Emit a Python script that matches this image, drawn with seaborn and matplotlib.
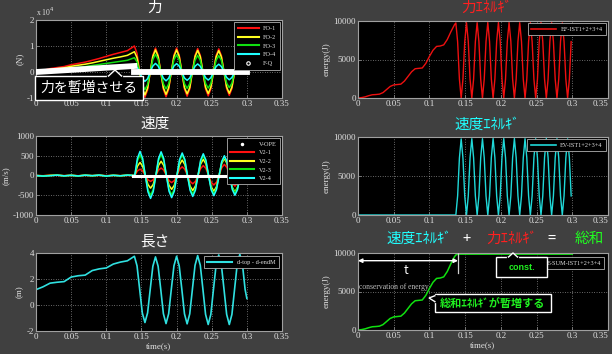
import numpy as np
import pandas as pd
import matplotlib
matplotlib.use('Agg')
import matplotlib.pyplot as plt
import seaborn as sns
from matplotlib.patches import Rectangle, Polygon
from matplotlib.lines import Line2D

# ---------------- data ----------------
# force (x10^4 N) : ramp part
t_ramp = [0.00, 0.01, 0.02, 0.03, 0.04, 0.05, 0.06, 0.07, 0.08, 0.09, 0.10, 0.11, 0.12, 0.13, 0.14]
fo1_ramp = [0.00, 0.06, 0.13, 0.17, 0.21, 0.28, 0.33, 0.38, 0.45, 0.52, 0.60, 0.68, 0.75, 0.82, 1.00]
fo2_ramp = [0.00, 0.04, 0.10, 0.13, 0.16, 0.22, 0.26, 0.30, 0.35, 0.41, 0.47, 0.53, 0.58, 0.64, 0.78]
fo3_ramp = [0.00, 0.03, 0.07, 0.09, 0.12, 0.15, 0.18, 0.21, 0.25, 0.29, 0.33, 0.37, 0.41, 0.45, 0.55]
fo4_ramp = [0.00, 0.01, 0.03, 0.04, 0.05, 0.07, 0.08, 0.10, 0.11, 0.13, 0.15, 0.17, 0.19, 0.20, 0.25]
# force : oscillation part, sampled every 0.00375 s after 0.14 s
t_fosc = np.round(0.14 + 0.00375 * np.arange(1, 43), 5)
fo1_osc = [0.71, 0.00, -0.69, -0.97, -0.69, 0.00, 0.65, 0.92,
           0.65, 0.00, -0.67, -0.95, -0.67, 0.00, 0.65, 0.92,
           0.65, 0.00, -0.66, -0.93, -0.66, 0.00, 0.64, 0.90,
           0.64, 0.00, -0.65, -0.92, -0.65, 0.00, 0.63, 0.89,
           0.63, 0.00, -0.64, -0.90, -0.64, 0.00, 0.62, 0.88,
           0.62, 0.00]
fo2_osc = [0.55, 0.00, -0.62, -0.88, -0.62, 0.00, 0.60, 0.85,
           0.60, 0.00, -0.61, -0.86, -0.61, 0.00, 0.60, 0.85,
           0.60, 0.00, -0.60, -0.84, -0.60, 0.00, 0.59, 0.83,
           0.59, 0.00, -0.59, -0.83, -0.59, 0.00, 0.58, 0.82,
           0.58, 0.00, -0.58, -0.82, -0.58, 0.00, 0.58, 0.82,
           0.58, 0.00]
fo3_osc = [0.39, 0.00, -0.48, -0.68, -0.48, 0.00, 0.48, 0.68,
           0.48, 0.00, -0.46, -0.65, -0.46, 0.00, 0.47, 0.66,
           0.47, 0.00, -0.45, -0.63, -0.45, 0.00, 0.45, 0.64,
           0.45, 0.00, -0.44, -0.62, -0.44, 0.00, 0.45, 0.63,
           0.45, 0.00, -0.43, -0.60, -0.43, 0.00, 0.44, 0.62,
           0.44, 0.00]
fo4_osc = [0.18, 0.00, -0.26, -0.36, -0.26, 0.00, 0.23, 0.33,
           0.23, 0.00, -0.24, -0.34, -0.24, 0.00, 0.23, 0.32,
           0.23, 0.00, -0.23, -0.32, -0.23, 0.00, 0.22, 0.31,
           0.22, 0.00, -0.22, -0.31, -0.22, 0.00, 0.21, 0.30,
           0.21, 0.00, -0.21, -0.30, -0.21, 0.00, 0.21, 0.30,
           0.21, 0.00]
fq_t1, fq_v1 = [0.0, 0.14], [0.0, 0.23]
fq_t2, fq_v2 = [0.14, 0.30], [0.0, 0.0]

# velocity (m/s)
v_ramp = {
    'V2-1': [0, -5, 3, 5, -4, 3, -5, 4, -3, 4, -5, 3, -4, 4, 0],
    'V2-2': [0, -8, 4, 7, -6, 4, -8, 6, -4, 6, -8, 4, -5, 6, 0],
    'V2-3': [0, -12, -4, 9, -8, 5, -10, 7, -5, 8, -12, 5, -7, 8, 0],
    'V2-4': [0, -15, -5, 10, -10, 5, -12, 8, -5, 10, -15, 5, -8, 10, 0],
}
t_vosc = np.round(0.1405 + 0.00375 * np.arange(0, 41), 5)
v_osc = {
    'V2-1': [0, 114, 160, 114, 0, -107, -150, -107, 0, 135, 190, 135, 0, -128, -180, -128,
             0, 156, 220, 156, 0, -149, -210, -149, 0, 178, 250, 178, 0, -170, -240, -170,
             0, 199, 280, 199, 0, -192, -270, -192, 0],
    'V2-2': [0, 234, 330, 234, 0, -227, -320, -227, 0, 256, 360, 256, 0, -249, -350, -249,
             0, 277, 390, 277, 0, -270, -380, -270, 0, 291, 410, 291, 0, -284, -400, -284,
             0, 305, 430, 305, 0, -298, -420, -298, 0],
    'V2-3': [0, 369, 520, 369, 0, -355, -500, -355, 0, 376, 530, 376, 0, -348, -490, -348,
             0, 369, 520, 369, 0, -334, -470, -334, 0, 355, 500, 355, 0, -327, -460, -327,
             0, 334, 470, 334, 0, -312, -440, -312, 0],
    'V2-4': [0, 433, 610, 433, 0, -412, -580, -412, 0, 426, 600, 426, 0, -398, -560, -398,
             0, 405, 570, 405, 0, -376, -530, -376, 0, 390, 550, 390, 0, -362, -510, -362,
             0, 355, 500, 355, 0, -355, -500, -355, 0],
}
vope_t, vope_v = [0.138, 0.295], [0.0, 0.0]

# length (m)
len_ramp = [1.18, 1.40, 1.68, 1.75, 1.80, 2.15, 2.25, 2.30, 2.65, 2.78, 2.85, 3.15, 3.30, 3.40, 3.75]
len_osc = [3.01, 1.20, -0.61, -1.35, -0.61, 1.20, 2.98, 3.70,
           2.98, 1.20, -0.67, -1.43, -0.67, 1.20, 3.01, 3.75,
           3.01, 1.20, -0.68, -1.45, -0.68, 1.20, 3.05, 3.80,
           3.05, 1.20, -0.72, -1.50, -0.72, 1.20, 3.08, 3.85,
           3.08, 1.20, -0.72, -1.50, -0.72, 1.20, 3.12, 3.90,
           3.12, 1.20]
len_end_t, len_end_v = 0.30, 0.50

# energies (J)
t_eramp = np.round(0.005 * np.arange(0, 28), 4)
ef_ramp = [0, 50, 150, 300, 420, 450, 500, 700, 1100, 1500, 1700, 1750, 1800, 2200,
           2800, 3400, 3800, 3850, 3900, 4500, 5400, 6200, 6700, 6750, 6900, 7600, 8600, 9500]
t_eosc = np.round(0.137 + (0.0149 / 6) * np.arange(0, 66), 5)
ef_osc = [9750, 7300, 2450, 0, 2450, 7300,
          9780, 7330, 2450, 0, 2450, 7330,
          9780, 7330, 2450, 0, 2450, 7330,
          9800, 7350, 2450, 0, 2450, 7350,
          9800, 7350, 2450, 0, 2450, 7350,
          9800, 7350, 2450, 0, 2450, 7350,
          9780, 7330, 2450, 0, 2450, 7330,
          9780, 7330, 2450, 0, 2450, 7330,
          9800, 7350, 2450, 0, 2450, 7350,
          9780, 7330, 2450, 0, 2450, 7330,
          9760, 7320, 2450, 0, 2450, 7320]
ev_osc = [0, 2450, 7300, 9750, 7300, 2450,
          0, 2450, 7330, 9780, 7330, 2450,
          0, 2450, 7330, 9780, 7330, 2450,
          0, 2450, 7350, 9800, 7350, 2450,
          0, 2450, 7350, 9800, 7350, 2450,
          0, 2450, 7350, 9800, 7350, 2450,
          0, 2450, 7330, 9780, 7330, 2450,
          0, 2450, 7330, 9780, 7330, 2450,
          0, 2450, 7350, 9800, 7350, 2450,
          0, 2450, 7330, 9780, 7330, 2450,
          0, 2450, 7320, 9760, 7320, 2450]
ev_pre_t, ev_pre_v = [0.0, 0.137], [0, 0]
esum_tail_t, esum_tail_v = [0.137, 0.14, 0.30], [9750, 9850, 9850]

xticks = [0, 0.05, 0.1, 0.15, 0.2, 0.25, 0.3, 0.35]
xticklabels = ['0', '0.05', '0.1', '0.15', '0.2', '0.25', '0.3', '0.35']

# ---------------- styling ----------------
plt.rcParams['font.family'] = ['Liberation Serif', 'DejaVu Serif']
JP = ['Noto Sans CJK JP', 'DejaVu Sans']
BG = '#404040'
TXT = '#e0e0e0'
RED, YEL, GRN, CYN = '#ff1010', '#ffff20', '#10e010', '#20ffff'

W, H = 612, 354
fig = plt.figure(figsize=(W / 100, H / 100), dpi=100, facecolor=BG)


def X(px):
    return px / W


def Y(py):
    return 1 - py / H


def add_ax(x0, y0, x1, y1):
    return fig.add_axes([X(x0), Y(y1), (x1 - x0) / W, (y1 - y0) / H])


def style(ax, ylim, yticks, ylabel, xlabel=None, right_edge=False):
    ax.set_facecolor('black')
    ax.set_xlim(0, 0.35)
    ax.set_ylim(*ylim)
    ax.set_xticks(xticks)
    ax.set_xticklabels(xticklabels)
    ax.set_yticks(yticks)
    ax.set_yticklabels([str(v) for v in yticks])
    ax.grid(True, color='#c8c8c8', linestyle=(0, (1, 2.5)), linewidth=0.5)
    ax.set_axisbelow(True)
    for s in ax.spines.values():
        s.set_visible(True)
        s.set_color('#a0a0a0')
        s.set_linewidth(0.8)
    ax.tick_params(color='#a0a0a0', labelcolor=TXT, labelsize=6.5, direction='in',
                   length=2, width=0.5, pad=1.5)
    ax.set_ylabel(ylabel, color=TXT, fontsize=6.5, labelpad=2)
    if xlabel:
        ax.set_xlabel(xlabel, color=TXT, fontsize=6.5, labelpad=1)
    else:
        ax.set_xlabel('')
    if right_edge:
        ax.get_xticklabels()[-1].set_horizontalalignment('right')


def line(ax, t, v, color, lw=1.1, z=2):
    sns.lineplot(x=list(t), y=list(v), ax=ax, color=color, linewidth=lw,
                 estimator=None, sort=False, legend=False, zorder=z)


def leg(ax, handles, labels, **kw):
    lg = ax.legend(handles, labels, loc='upper right', fontsize=4.5, frameon=True,
                   facecolor='black', edgecolor='#b0b0b0', framealpha=1, labelcolor=TXT,
                   fancybox=False, handletextpad=0.7, borderpad=0.55, **kw)
    lg.get_frame().set_linewidth(0.6)
    lg.set_zorder(20)
    return lg


axF = add_ax(36, 20, 282, 98)
axEF = add_ax(358, 21, 608, 98)
axV = add_ax(36, 136, 282, 215)
axEV = add_ax(358, 137, 608, 215)
axL = add_ax(36, 253, 282, 331)
axET = add_ax(358, 253, 608, 330)

# ---- force ----
fcols = [RED, YEL, GRN, CYN]
for ramp, osc, c in zip([fo1_ramp, fo2_ramp, fo3_ramp, fo4_ramp],
                        [fo1_osc, fo2_osc, fo3_osc, fo4_osc], fcols):
    line(axF, list(t_ramp) + list(t_fosc), list(ramp) + list(osc), c, lw=1.1)
line(axF, fq_t1, fq_v1, 'white', lw=4.2, z=5)
line(axF, fq_t2, fq_v2, 'white', lw=4.2, z=5)
style(axF, (-1, 2), [-1, 0, 1, 2], '(N)')
axF.text(0.0, 1.02, r'x 10$^{4}$', transform=axF.transAxes, fontsize=5.5, color=TXT,
         ha='left', va='bottom')
hF = [Line2D([], [], color=c, lw=1.5) for c in fcols] + \
     [Line2D([], [], ls='none', marker='o', mfc='none', mec='white', ms=2.5, mew=0.8)]
leg(axF, hF, ['FO-1', 'FO-2', 'FO-3', 'FO-4', 'F-Q'], handlelength=3.4, labelspacing=0.55,
    borderaxespad=0.35)

# ---- velocity ----
vcols = {'V2-1': RED, 'V2-2': YEL, 'V2-3': GRN, 'V2-4': CYN}
for k in ['V2-1', 'V2-2', 'V2-3', 'V2-4']:
    line(axV, list(t_ramp) + list(t_vosc), v_ramp[k] + v_osc[k], vcols[k], lw=1.1)
line(axV, vope_t, vope_v, 'white', lw=2.2, z=5)
style(axV, (-1000, 1000), [-1000, -500, 0, 500, 1000], '(m/s)')
hV = [Line2D([], [], ls='none', marker='.', color='white', ms=3)] + \
     [Line2D([], [], color=vcols[k], lw=1.5) for k in vcols]
leg(axV, hV, ['V-OPE', 'V2-1', 'V2-2', 'V2-3', 'V2-4'], handlelength=3.8, labelspacing=0.5,
    borderaxespad=0.35)

# ---- length ----
LC = '#30e0e0'
line(axL, list(t_ramp) + list(t_fosc) + [len_end_t], len_ramp + len_osc + [len_end_v], LC, lw=1.2)
style(axL, (-2, 4), [-2, 0, 2, 4], '(m)', 'time(s)')
leg(axL, [Line2D([], [], color=LC, lw=1.5)], ['d-top - d-endM'], handlelength=4.0,
    borderaxespad=0.5)

# ---- force energy ----
line(axEF, list(t_eramp) + list(t_eosc), ef_ramp + ef_osc, '#ee1010', lw=1.0)
style(axEF, (0, 10000), [0, 5000, 10000], 'energy(J)', right_edge=True)
leg(axEF, [Line2D([], [], color='#ee1010', lw=1.2)], ['EF-IST1+2+3+4'], handlelength=4.0,
    borderaxespad=0.3)

# ---- velocity energy ----
EVC = '#20d8d8'
line(axEV, ev_pre_t + list(t_eosc), ev_pre_v + ev_osc, EVC, lw=1.0)
style(axEV, (0, 10000), [0, 5000, 10000], 'energy(J)', right_edge=True)
leg(axEV, [Line2D([], [], color=EVC, lw=1.2)], ['EV-IST1+2+3+4'], handlelength=4.0,
    borderaxespad=0.3)

# ---- total energy ----
ETC = '#10e010'
line(axET, list(t_eramp) + esum_tail_t, ef_ramp + esum_tail_v, ETC, lw=1.1)
style(axET, (0, 10000), [0, 5000, 10000], 'energy(J)', 'time(s)', right_edge=True)
leg(axET, [Line2D([], [], color=ETC, lw=1.2)], ['E-SUM-IST1+2+3+4'], handlelength=4.0,
    borderaxespad=0.6)
axET.annotate('', xy=(0.0, 9000), xytext=(0.14, 9000),
              arrowprops=dict(arrowstyle='<|-|>', color='white', lw=1.0, mutation_scale=6,
                              shrinkA=0, shrinkB=0), zorder=6)
axET.plot([0.14, 0.14], [7400, 10000], color='#d0d0d0', lw=0.9, zorder=6)
axET.text(0.067, 7750, 't', color='white', fontsize=9, ha='center', va='center', family=JP)
axET.text(0.002, 5600, 'conservation of energy', color='#bcbcbc', fontsize=5.5,
          ha='left', va='center')

# ---------------- titles ----------------
fig.text(X(155), Y(8), '力', family=JP, fontsize=10.5, color='white', ha='center', va='center')
fig.text(X(487), Y(8), '力ｴﾈﾙｷﾞ', family=JP, fontsize=10.5, color='#ff2020', ha='center', va='center')
fig.text(X(155), Y(124), '速度', family=JP, fontsize=10.5, color='white', ha='center', va='center')
fig.text(X(487), Y(125), '速度ｴﾈﾙｷﾞ', family=JP, fontsize=10.5, color='#20ffff', ha='center', va='center')
fig.text(X(155), Y(242), '長さ', family=JP, fontsize=10.5, color='white', ha='center', va='center')
fig.text(X(419), Y(239), '速度ｴﾈﾙｷﾞ', family=JP, fontsize=10.5, color='#20ffff', ha='center', va='center')
fig.text(X(467), Y(239), '+', family=JP, fontsize=10.5, color='white', ha='center', va='center')
fig.text(X(512), Y(239), '力ｴﾈﾙｷﾞ', family=JP, fontsize=10.5, color='#ff2020', ha='center', va='center')
fig.text(X(552), Y(239), '=', family=JP, fontsize=10.5, color='white', ha='center', va='center')
fig.text(X(589), Y(239), '総和', family=JP, fontsize=10.5, color='#20ff20', ha='center', va='center')


# ---------------- callouts ----------------
def callout(x0, y0, x1, y1, base1, tip, base2, text, color, fs, family, weight='normal'):
    fig.add_artist(Rectangle((X(x0), Y(y1)), (x1 - x0) / W, (y1 - y0) / H,
                             transform=fig.transFigure, fc='black', ec='white', lw=1.0,
                             zorder=30))
    fig.add_artist(Line2D([X(base1[0]), X(base2[0])], [Y(base1[1]), Y(base2[1])],
                          transform=fig.transFigure, color='black', lw=1.6, zorder=31))
    fig.add_artist(Polygon([(X(base1[0]), Y(base1[1])), (X(tip[0]), Y(tip[1])),
                            (X(base2[0]), Y(base2[1]))], closed=False,
                           transform=fig.transFigure, fc='black', ec='white', lw=1.0,
                           zorder=32))
    fig.text(X((x0 + x1) / 2), Y((y0 + y1) / 2), text, family=family, fontsize=fs,
             color=color, ha='center', va='center', fontweight=weight, zorder=33)


callout(35, 76, 143, 100, (108, 76.5), (115, 70), (122, 76.5), '力を暫増させる',
        'white', 10, JP)
callout(435, 294, 551, 312, (435.5, 295.5), (429, 298), (435.5, 302), '総和ｴﾈﾙｷﾞが暫増する',
        '#20f020', 8, JP, 'bold')
callout(496, 257, 547, 277, (508, 257.5), (513, 253), (518, 257.5), 'const.',
        '#20f020', 6.5, ['Liberation Sans', 'DejaVu Sans'], 'bold')

fig.savefig('out.png', dpi=100, facecolor=BG)
